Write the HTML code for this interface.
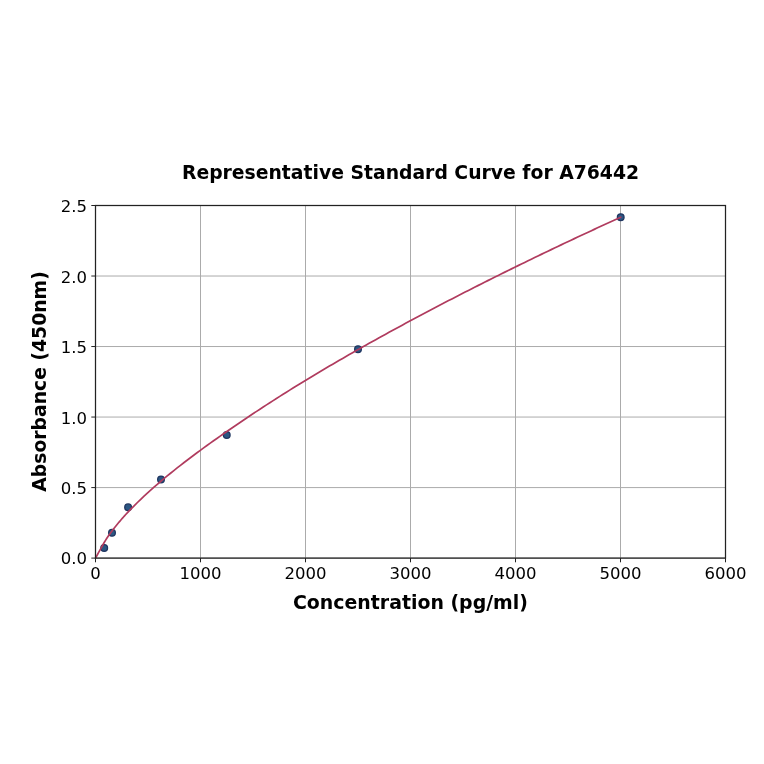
<!DOCTYPE html>
<html lang="en"><head><meta charset="utf-8"><title>Representative Standard Curve for A76442</title>
<style>html,body{margin:0;padding:0;background:#fff}svg{display:block}text{font-family:"DejaVu Sans","Liberation Sans",sans-serif;fill:#000}.t{font-size:16.5px}.b{font-size:18.8px;font-weight:bold}</style></head><body>
<svg width="764" height="764" viewBox="0 0 764 764">
<rect width="764" height="764" fill="#fff"/>
<path d="M95.50 558.10V205.50M200.50 558.10V205.50M305.50 558.10V205.50M410.50 558.10V205.50M515.50 558.10V205.50M620.50 558.10V205.50M725.50 558.10V205.50M95.50 558.10H725.50M95.50 487.58H725.50M95.50 417.06H725.50M95.50 346.54H725.50M95.50 276.02H725.50M95.50 205.50H725.50" stroke="#ababab" stroke-width="1" fill="none"/>
<circle cx="104.20" cy="547.90" r="3.35" fill="#2b5783" stroke="#1f3560" stroke-width="1.3"/>
<circle cx="112.00" cy="532.80" r="3.35" fill="#2b5783" stroke="#1f3560" stroke-width="1.3"/>
<circle cx="128.10" cy="507.30" r="3.35" fill="#2b5783" stroke="#1f3560" stroke-width="1.3"/>
<circle cx="161.00" cy="479.45" r="3.35" fill="#2b5783" stroke="#1f3560" stroke-width="1.3"/>
<circle cx="226.75" cy="434.95" r="3.35" fill="#2b5783" stroke="#1f3560" stroke-width="1.3"/>
<circle cx="358.00" cy="349.20" r="3.35" fill="#2b5783" stroke="#1f3560" stroke-width="1.3"/>
<circle cx="620.70" cy="217.20" r="3.35" fill="#2b5783" stroke="#1f3560" stroke-width="1.3"/>
<path d="M95.50 558.15 L96.50 556.32 L97.50 554.51 L98.50 552.70 L99.50 550.89 L100.50 549.10 L101.50 547.31 L102.50 545.53 L103.50 543.77 L104.50 542.02 L105.50 540.35 L106.50 538.78 L107.50 537.27 L108.50 535.81 L109.50 534.40 L110.50 533.02 L111.50 531.67 L112.50 530.34 L113.50 529.02 L114.50 527.73 L115.50 526.46 L116.50 525.21 L117.50 523.99 L118.50 522.78 L119.50 521.60 L120.50 520.43 L121.50 519.27 L122.50 518.13 L123.50 517.01 L124.50 515.90 L125.50 514.80 L127.50 512.64 L130.81 509.16 L134.12 505.79 L137.43 502.51 L140.74 499.31 L144.05 496.18 L147.36 493.13 L150.67 490.13 L153.98 487.20 L157.29 484.31 L160.60 481.48 L163.91 478.69 L167.22 475.94 L170.53 473.24 L173.84 470.57 L177.15 467.93 L180.46 465.33 L183.77 462.76 L187.08 460.22 L190.39 457.71 L193.70 455.22 L197.01 452.77 L200.32 450.33 L203.63 447.92 L206.94 445.52 L210.25 443.15 L213.56 440.79 L216.87 438.45 L220.18 436.13 L223.49 433.82 L226.80 431.52 L230.11 429.24 L233.42 426.97 L236.73 424.70 L240.04 422.45 L243.35 420.22 L246.66 417.99 L249.97 415.77 L253.28 413.57 L256.59 411.38 L259.90 409.20 L263.21 407.04 L266.52 404.88 L269.83 402.73 L273.14 400.59 L276.45 398.47 L279.76 396.37 L283.07 394.27 L286.38 392.19 L289.69 390.12 L293.00 388.06 L296.31 386.01 L299.62 383.97 L302.93 381.94 L306.24 379.93 L309.55 377.92 L312.86 375.93 L316.17 373.94 L319.48 371.97 L322.79 370.00 L326.10 368.04 L329.41 366.10 L332.72 364.16 L336.03 362.23 L339.34 360.31 L342.65 358.39 L345.96 356.49 L349.27 354.59 L352.58 352.70 L355.89 350.81 L359.20 348.93 L362.51 347.06 L365.82 345.20 L369.13 343.34 L372.44 341.50 L375.76 339.65 L379.07 337.82 L382.38 335.99 L385.69 334.16 L389.00 332.34 L392.31 330.53 L395.62 328.73 L398.93 326.93 L402.24 325.13 L405.55 323.35 L408.86 321.56 L412.17 319.79 L415.48 318.02 L418.79 316.26 L422.10 314.50 L425.41 312.74 L428.72 310.99 L432.03 309.25 L435.34 307.51 L438.65 305.78 L441.96 304.05 L445.27 302.33 L448.58 300.61 L451.89 298.89 L455.20 297.19 L458.51 295.49 L461.82 293.79 L465.13 292.10 L468.44 290.41 L471.75 288.73 L475.06 287.05 L478.37 285.37 L481.68 283.70 L484.99 282.03 L488.30 280.37 L491.61 278.72 L494.92 277.06 L498.23 275.41 L501.54 273.77 L504.85 272.13 L508.16 270.50 L511.47 268.87 L514.78 267.24 L518.09 265.62 L521.40 264.00 L524.71 262.39 L528.02 260.77 L531.33 259.17 L534.64 257.56 L537.95 255.96 L541.26 254.37 L544.57 252.78 L547.88 251.20 L551.19 249.61 L554.50 248.03 L557.81 246.45 L561.12 244.88 L564.43 243.31 L567.74 241.75 L571.05 240.19 L574.36 238.64 L577.67 237.08 L580.98 235.53 L584.29 233.99 L587.60 232.44 L590.91 230.90 L594.22 229.36 L597.53 227.83 L600.84 226.30 L604.15 224.77 L607.46 223.25 L610.77 221.73 L614.08 220.21 L617.39 218.71 L620.70 217.20" stroke="#b03b5e" stroke-width="1.7" fill="none" stroke-linejoin="round" stroke-linecap="round"/>
<path d="M95.50 558.10v4.2M200.50 558.10v4.2M305.50 558.10v4.2M410.50 558.10v4.2M515.50 558.10v4.2M620.50 558.10v4.2M725.50 558.10v4.2M95.50 558.10h-4.2M95.50 487.58h-4.2M95.50 417.06h-4.2M95.50 346.54h-4.2M95.50 276.02h-4.2M95.50 205.50h-4.2" stroke="#222" stroke-width="1" fill="none"/>
<rect x="95.50" y="205.50" width="630.00" height="352.60" fill="none" stroke="#222" stroke-width="1.25"/>
<text class="t" x="95.50" y="578.6" text-anchor="middle">0</text>
<text class="t" x="200.50" y="578.6" text-anchor="middle">1000</text>
<text class="t" x="305.50" y="578.6" text-anchor="middle">2000</text>
<text class="t" x="410.50" y="578.6" text-anchor="middle">3000</text>
<text class="t" x="515.50" y="578.6" text-anchor="middle">4000</text>
<text class="t" x="620.50" y="578.6" text-anchor="middle">5000</text>
<text class="t" x="725.50" y="578.6" text-anchor="middle">6000</text>
<text class="t" x="87.1" y="564.10" text-anchor="end">0.0</text>
<text class="t" x="87.1" y="494.08" text-anchor="end">0.5</text>
<text class="t" x="87.1" y="423.56" text-anchor="end">1.0</text>
<text class="t" x="87.1" y="353.04" text-anchor="end">1.5</text>
<text class="t" x="87.1" y="282.52" text-anchor="end">2.0</text>
<text class="t" x="87.1" y="212.00" text-anchor="end">2.5</text>
<text class="b" x="410.5" y="178.6" text-anchor="middle">Representative Standard Curve for A76442</text>
<text class="b" style="font-size:18.92px" x="410.45" y="608.7" text-anchor="middle">Concentration (pg/ml)</text>
<text class="b" transform="translate(45.9 381.5) rotate(-90)" text-anchor="middle">Absorbance (450nm)</text>
</svg></body></html>
